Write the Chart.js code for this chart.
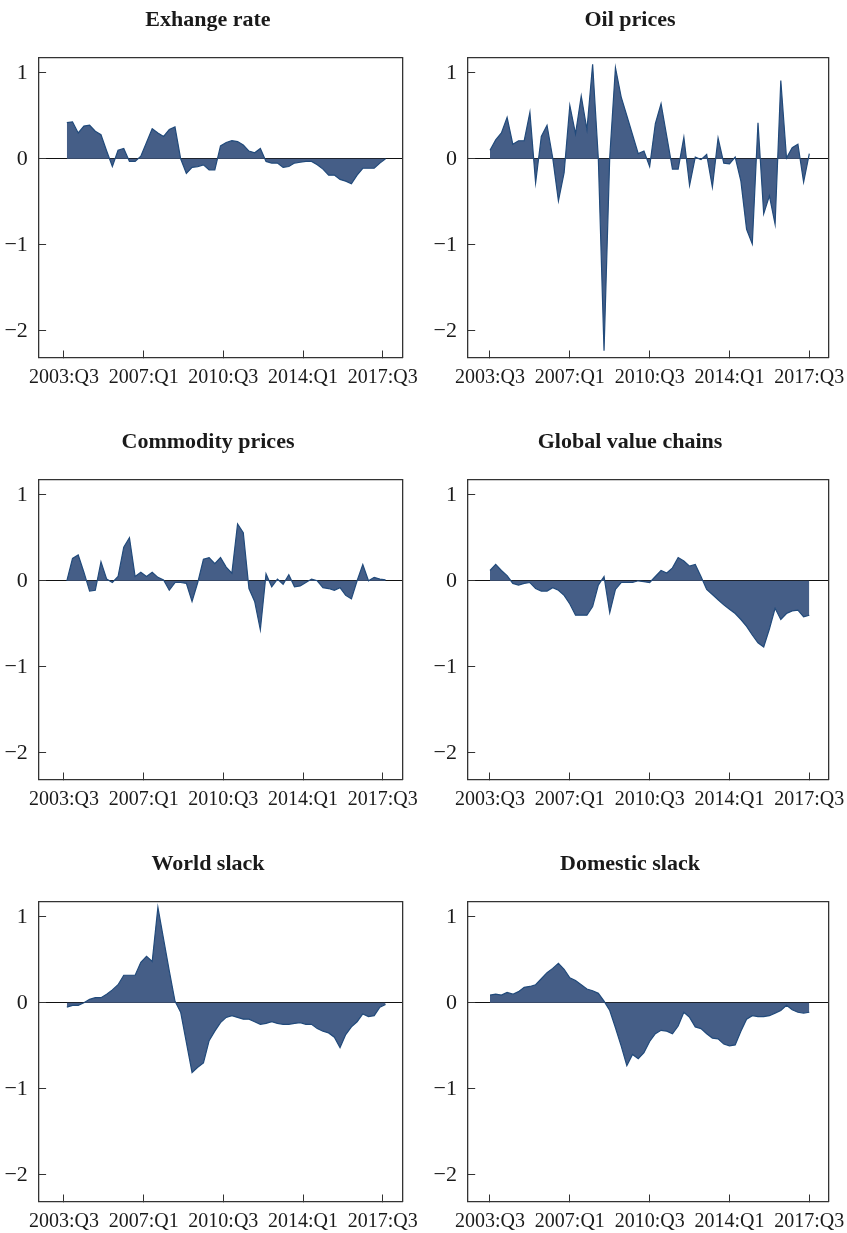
<!DOCTYPE html>
<html>
<head>
<meta charset="utf-8">
<title>Contributions by factor</title>
<script src="https://cdn.jsdelivr.net/npm/chart.js@4.4.1/dist/chart.umd.min.js"></script>
<style>
  html, body { margin: 0; padding: 0; background: #fff; }
  #page { position: relative; width: 847px; height: 1233px; overflow: hidden; background: #fff; }
  canvas { position: absolute; }
</style>
</head>
<body>
<div id="page">
  <canvas id="c0"></canvas>
  <canvas id="c1"></canvas>
  <canvas id="c2"></canvas>
  <canvas id="c3"></canvas>
  <canvas id="c4"></canvas>
  <canvas id="c5"></canvas>
</div>
<script>
// Dữ liệu theo quý, 2003:Q3 -> 2017:Q3 (57 quý)
const exchangeRate = [0.42, 0.43, 0.30, 0.38, 0.39, 0.32, 0.28, 0.09, -0.09, 0.10,
  0.12, -0.03, -0.03, 0.03, 0.19, 0.35, 0.30, 0.26, 0.34, 0.37,
  0.00, -0.17, -0.10, -0.09, -0.07, -0.13, -0.13, 0.15, 0.19, 0.21,
  0.20, 0.16, 0.09, 0.07, 0.12, -0.03, -0.05, -0.05, -0.10, -0.09,
  -0.05, -0.04, -0.03, -0.03, -0.07, -0.12, -0.19, -0.19, -0.24, -0.26,
  -0.29, -0.19, -0.11, -0.11, -0.11, -0.05, 0.00];

const oilPrices = [0.10, 0.22, 0.30, 0.48, 0.17, 0.21, 0.21, 0.54, -0.28, 0.26,
  0.39, 0.01, -0.49, -0.16, 0.62, 0.29, 0.73, 0.34, 1.10, 0.00,
  -2.23, 0.02, 1.06, 0.72, 0.50, 0.28, 0.06, 0.09, -0.09, 0.41,
  0.64, 0.26, -0.12, -0.12, 0.25, -0.31, 0.02, -0.01, 0.05, -0.33,
  0.24, -0.05, -0.06, 0.02, -0.26, -0.82, -0.99, 0.42, -0.64, -0.43,
  -0.76, 0.91, 0.01, 0.13, 0.17, -0.27, 0.06];

const commodityPrices = [0.00, 0.26, 0.30, 0.10, -0.12, -0.11, 0.22, 0.02, -0.02, 0.05,
  0.39, 0.50, 0.05, 0.10, 0.05, 0.10, 0.04, 0.01, -0.11, -0.02,
  -0.02, -0.03, -0.24, -0.02, 0.25, 0.27, 0.20, 0.27, 0.16, 0.09,
  0.66, 0.56, -0.09, -0.24, -0.57, 0.08, -0.07, 0.02, -0.04, 0.07,
  -0.07, -0.06, -0.02, 0.02, 0.00, -0.08, -0.09, -0.11, -0.08, -0.17,
  -0.21, 0.00, 0.19, 0.00, 0.04, 0.02, 0.01];

const valueChains = [0.12, 0.19, 0.12, 0.06, -0.03, -0.05, -0.03, -0.02, -0.09, -0.12,
  -0.12, -0.08, -0.11, -0.17, -0.27, -0.40, -0.40, -0.40, -0.30, -0.05,
  0.05, -0.37, -0.10, -0.02, -0.02, -0.02, 0.00, -0.01, -0.02, 0.05,
  0.12, 0.09, 0.15, 0.27, 0.23, 0.17, 0.19, 0.05, -0.10, -0.16,
  -0.22, -0.28, -0.33, -0.38, -0.45, -0.53, -0.63, -0.72, -0.77, -0.56,
  -0.32, -0.45, -0.38, -0.35, -0.34, -0.42, -0.40];

const worldSlack = [-0.05, -0.03, -0.03, 0.00, 0.04, 0.06, 0.06, 0.10, 0.15, 0.21,
  0.32, 0.32, 0.32, 0.47, 0.54, 0.48, 1.11, 0.74, 0.37, 0.02,
  -0.11, -0.46, -0.81, -0.75, -0.70, -0.44, -0.33, -0.23, -0.17, -0.15,
  -0.17, -0.19, -0.19, -0.22, -0.25, -0.24, -0.22, -0.24, -0.25, -0.25,
  -0.24, -0.23, -0.25, -0.25, -0.30, -0.33, -0.35, -0.40, -0.52, -0.37,
  -0.28, -0.22, -0.13, -0.16, -0.15, -0.05, -0.02];

const domesticSlack = [0.09, 0.10, 0.09, 0.12, 0.10, 0.13, 0.18, 0.19, 0.21, 0.28,
  0.35, 0.40, 0.46, 0.39, 0.29, 0.26, 0.21, 0.16, 0.14, 0.11,
  0.02, -0.09, -0.29, -0.50, -0.73, -0.60, -0.65, -0.58, -0.45, -0.36,
  -0.32, -0.33, -0.36, -0.27, -0.11, -0.17, -0.28, -0.30, -0.36, -0.41,
  -0.42, -0.48, -0.50, -0.49, -0.33, -0.19, -0.15, -0.16, -0.16, -0.15,
  -0.12, -0.09, -0.03, -0.08, -0.11, -0.12, -0.11];

// Nhãn trục
const tickLabels = ["2003:Q3", "2007:Q1", "2010:Q3", "2014:Q1", "2017:Q3"];
const yTicks = [-2, -1, 0, 1];

// Danh sách quý từ 2003:Q3
const quarters = [];
for (let k = 0; k < exchangeRate.length; k++) {
  const t = 2003 * 4 + 2 + k;
  quarters.push(Math.floor(t / 4) + ":Q" + ((t % 4) + 1));
}

const panels = [
  { id: "c0", title: "Exhange rate", values: exchangeRate, col: 0, row: 0 },
  { id: "c1", title: "Oil prices", values: oilPrices, col: 1, row: 0 },
  { id: "c2", title: "Commodity prices", values: commodityPrices, col: 0, row: 1 },
  { id: "c3", title: "Global value chains", values: valueChains, col: 1, row: 1 },
  { id: "c4", title: "World slack", values: worldSlack, col: 0, row: 2 },
  { id: "c5", title: "Domestic slack", values: domesticSlack, col: 1, row: 2 },
];

// Bố cục từng cột (canvas + độ rộng trục)
const columns = [
  { left: 0, width: 424, padRight: 8, yWidth: 38.6, rightWidth: 13.7, xMin: -4.46, xMax: 59.44, shift: 0.5 },
  { left: 425, width: 422, padRight: 12, yWidth: 42.7, rightWidth: 6.7, xMin: -3.91, xMax: 59.33, shift: 0 },
];
const rowTop = [0, 422, 844];
const CANVAS_H = 410;

const FONT = "'Liberation Serif', 'Times New Roman', serif";
const AXIS = "#333333";
const fmtMinus = (v) => (v < 0 ? "\u2212" + Math.abs(v) : String(v));

function drawPanel(p) {
  const col = columns[p.col];
  const canvas = document.getElementById(p.id);
  canvas.width = col.width;
  canvas.height = CANVAS_H;
  canvas.style.left = col.left + "px";
  canvas.style.top = rowTop[p.row] + "px";

  return new Chart(canvas.getContext("2d"), {
    type: "line",
    data: {
      datasets: [
        {
          data: p.values.map((v, i) => ({ x: i + col.shift, y: v })),
          borderColor: "#214a7b",
          backgroundColor: "#455e87",
          borderWidth: 1.2,
          pointRadius: 0,
          tension: 0,
          fill: "origin",
        },
      ],
    },
    options: {
      responsive: false,
      animation: false,
      devicePixelRatio: 1,
      layout: { padding: { left: 0, right: col.padRight, top: 0, bottom: 0 } },
      plugins: {
        legend: { display: false },
        tooltip: { enabled: false },
        title: {
          display: true,
          text: p.title,
          color: "#1a1a1a",
          font: { family: FONT, size: 22, weight: "bold", lineHeight: 1.2 },
          padding: { top: 6.8, bottom: 24.1 },
        },
      },
      scales: {
        x: {
          type: "linear",
          position: "bottom",
          min: col.xMin,
          max: col.xMax,
          afterBuildTicks: (s) => {
            s.ticks = tickLabels.map((l) => ({ value: quarters.indexOf(l) }));
          },
          afterFit: (s) => {
            s.height = CANVAS_H - 357.5;
            s.paddingLeft = 0;
            s.paddingRight = 0;
          },
          ticks: {
            autoSkip: false,
            maxRotation: 0,
            padding: 15.5,
            color: "#1a1a1a",
            font: { family: FONT, size: 20 },
            callback: (v) => quarters[v],
          },
          grid: { drawOnChartArea: false, tickLength: -7, color: AXIS, tickColor: AXIS, lineWidth: 1 },
          border: { display: true, color: AXIS, width: 1.3 },
        },
        y: {
          position: "left",
          min: -2.31,
          max: 1.18,
          bounds: "data",
          z: 1,
          afterBuildTicks: (s) => {
            s.ticks = yTicks.map((v) => ({ value: v }));
          },
          afterFit: (s) => {
            s.width = col.yWidth;
            s.paddingTop = 0;
            s.paddingBottom = 0;
          },
          ticks: {
            padding: 18.3,
            color: "#1a1a1a",
            font: { family: FONT, size: 22 },
            callback: fmtMinus,
          },
          grid: {
            drawOnChartArea: true,
            tickLength: -7.5,
            lineWidth: 1,
            tickColor: AXIS,
            color: (c) => (c.tick && c.tick.value === 0 ? "#111111" : "rgba(0,0,0,0)"),
          },
          border: { display: true, color: AXIS, width: 1.3 },
        },
        // khung trên và phải
        x2: {
          type: "linear",
          position: "top",
          ticks: { display: false },
          grid: { drawOnChartArea: false, drawTicks: false },
          border: { display: true, color: AXIS, width: 1.3 },
          afterFit: (s) => { s.height = 0; },
        },
        y2: {
          type: "linear",
          position: "right",
          ticks: { display: false },
          grid: { drawOnChartArea: false, drawTicks: false },
          border: { display: true, color: AXIS, width: 1.3 },
          afterFit: (s) => { s.width = col.rightWidth; },
        },
      },
    },
  });
}

panels.forEach(drawPanel);
</script>
</body>
</html>
